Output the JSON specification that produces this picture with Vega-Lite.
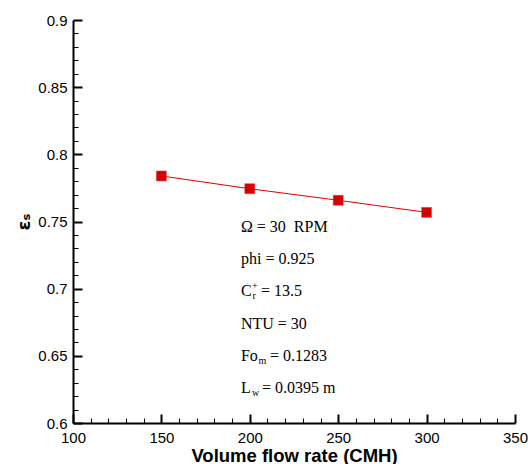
{
  "$schema": "https://vega.github.io/schema/vega-lite/v6.json",
  "autosize": "none",
  "width": 442,
  "height": 403,
  "padding": {"left": 73, "top": 20, "right": 13, "bottom": 41},
  "background": "white",
  "config": {"view": {"stroke": null}},
  "datasets": {
    "pts": [
      {"flow": 150, "eff": 0.7839},
      {"flow": 200, "eff": 0.7744},
      {"flow": 250, "eff": 0.7658},
      {"flow": 300, "eff": 0.7568}
    ],
    "main": [
      {"x": 195, "y": 0.746, "t": "Ω = 30\u00a0 RPM"},
      {"x": 195, "y": 0.722, "t": "phi = 0.925"},
      {"x": 195, "y": 0.698, "t": "C"},
      {"x": 206.3, "y": 0.698, "t": "= 13.5"},
      {"x": 195, "y": 0.674, "t": "NTU = 30"},
      {"x": 195, "y": 0.650, "t": "Fo"},
      {"x": 211.4, "y": 0.650, "t": "= 0.1283"},
      {"x": 195, "y": 0.626, "t": "L"},
      {"x": 206.9, "y": 0.626, "t": "= 0.0395 m"}
    ],
    "small": [
      {"x": 201.2, "y": 0.7018, "t": "+"},
      {"x": 201.5, "y": 0.6942, "t": "r"},
      {"x": 204.9, "y": 0.6462, "t": "m"},
      {"x": 201.2, "y": 0.6222, "t": "w"}
    ]
  },
  "resolve": {"axis": {"x": "independent", "y": "independent"}},
  "layer": [
    {
      "data": {"name": "pts"},
      "mark": {"type": "line", "color": "#e00000", "strokeWidth": 1},
      "encoding": {
        "x": {
          "field": "flow", "type": "quantitative",
          "scale": {"domain": [100, 350], "nice": false, "zero": false},
          "axis": {
            "orient": "bottom",
            "title": "Volume flow rate (CMH)",
            "values": [100, 150, 200, 250, 300, 350],
            "format": "d",
            "grid": false,
            "domainColor": "black", "domainWidth": 2,
            "tickColor": "black", "tickSize": -9, "tickWidth": 2,
            "labelFont": "Liberation Sans", "labelFontSize": 15, "labelColor": "black",
            "labelPadding": 16,
            "labelFlush": false, "labelOverlap": false,
            "titleFont": "Liberation Sans", "titleFontSize": 18.5, "titleFontWeight": "bold", "titleColor": "black",
            "titlePadding": 1
          }
        },
        "y": {
          "field": "eff", "type": "quantitative",
          "scale": {"domain": [0.6, 0.9], "nice": false, "zero": false},
          "axis": {
            "orient": "left",
            "title": "εₛ",
            "values": [0.6, 0.65, 0.7, 0.75, 0.8, 0.85, 0.9],
            "format": "~g",
            "grid": false,
            "domainColor": "black", "domainWidth": 2,
            "tickColor": "black", "tickSize": -9, "tickWidth": 2,
            "labelFont": "Liberation Sans", "labelFontSize": 15, "labelColor": "black",
            "labelPadding": 15,
            "labelFlush": false, "labelOverlap": false,
            "titleFont": "DejaVu Sans", "titleFontSize": 18, "titleFontWeight": "bold", "titleColor": "black",
            "titlePadding": 4
          }
        }
      }
    },
    {
      "data": {"name": "pts"},
      "mark": {"type": "square", "size": 100, "color": "#d40000", "opacity": 1, "stroke": "#e84040", "strokeWidth": 0.5},
      "encoding": {
        "x": {
          "field": "flow", "type": "quantitative",
          "axis": {
            "orient": "bottom",
            "title": null, "labels": false, "domain": false, "grid": false,
            "values": [110,120,130,140,160,170,180,190,210,220,230,240,260,270,280,290,310,320,330,340],
            "tickColor": "black", "tickSize": -5, "tickWidth": 1
          }
        },
        "y": {
          "field": "eff", "type": "quantitative",
          "axis": {
            "orient": "left",
            "title": null, "labels": false, "domain": false, "grid": false,
            "values": [0.61,0.62,0.63,0.64,0.66,0.67,0.68,0.69,0.71,0.72,0.73,0.74,0.76,0.77,0.78,0.79,0.81,0.82,0.83,0.84,0.86,0.87,0.88,0.89],
            "tickColor": "black", "tickSize": -5, "tickWidth": 1
          }
        }
      }
    },
    {
      "data": {"name": "main"},
      "mark": {"type": "text", "align": "left", "baseline": "middle", "font": "Liberation Serif", "fontSize": 16, "color": "black"},
      "encoding": {
        "x": {"field": "x", "type": "quantitative", "axis": null},
        "y": {"field": "y", "type": "quantitative", "axis": null},
        "text": {"field": "t"}
      }
    },
    {
      "data": {"name": "small"},
      "mark": {"type": "text", "align": "left", "baseline": "middle", "font": "Liberation Serif", "fontSize": 10, "color": "black"},
      "encoding": {
        "x": {"field": "x", "type": "quantitative", "axis": null},
        "y": {"field": "y", "type": "quantitative", "axis": null},
        "text": {"field": "t"}
      }
    }
  ]
}
